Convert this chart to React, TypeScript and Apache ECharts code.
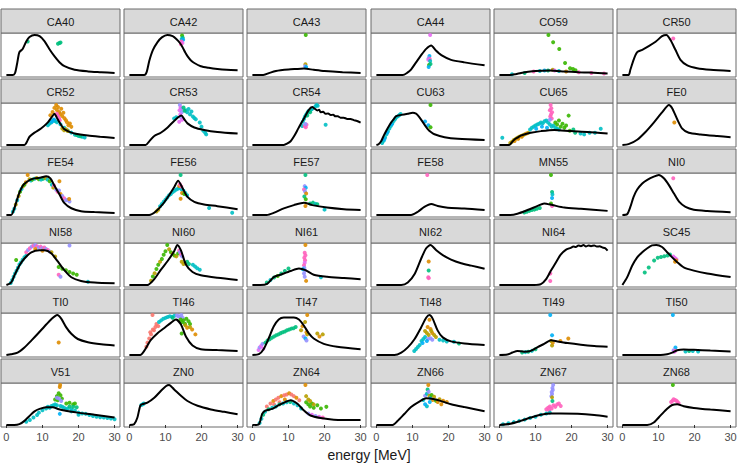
import React, { useEffect, useRef } from "react";
import * as echarts from "echarts";

type Pt = [number, number];
type Dot = [number, number, number];

const FONT = "'Liberation Sans', Arial, Helvetica, sans-serif";

// discrete hue palette for the experiment groups
const PALETTE = [
  "#F8766D", "#DE8C00", "#B79F00", "#39B600", "#00BF7D",
  "#00BFC4", "#00B0F6", "#9590FF", "#E76BF3", "#FF62BC",
];

const X_TICKS = [0, 10, 20, 30];
const X_TITLE = "energy [MeV]";

// ---- model curves [energy, value] and measurements [energy, value, group] ----
const ca40Curve: Pt[] = [[0,0],[1.8,0],[2.4,5],[3.0,30],[3.6,57],[4.5,65],[5.5,84],[6.4,95],[7.8,100],[9.2,97],[10.6,84],[11.9,65],[13.3,47],[14.7,32],[16.1,22],[18.9,13],[22.6,9],[26.3,7],[30,5]];
const ca40Dots: Dot[] = [[5.9,84,4],[14.3,78,4],[14.7,80,4],[15.0,81,4]];

const ca42Curve: Pt[] = [[0,0],[4.1,0],[4.8,8],[5.5,35],[6.5,62],[7.8,82],[9,94],[10.5,100],[12,97],[13,90],[14,80],[14.7,70],[15.5,56],[16.1,47],[17,37],[18,30],[19.8,22],[22,18],[24.4,15],[27,13],[30,12]];
const ca42Dots: Dot[] = [[14.6,99,3],[14.8,93,4],[14.5,90,5],[14.9,88,6],[14.4,84,9],[14.7,80,8],[14.3,77,9]];

const ca43Curve: Pt[] = [[0,0],[3,0],[5,6],[6.5,10],[7.8,12],[10,14],[12,15],[14.3,16],[17,13],[20,10],[25,7],[30,5]];
const ca43Dots: Dot[] = [[14.8,100,3],[14.7,27,2],[14.6,22,7],[14.9,20,6]];

const ca44Curve: Pt[] = [[0,0],[7.3,0],[8.5,5],[9.6,13],[11,30],[12.4,47],[13.8,62],[15.2,70],[16.5,58],[18,47],[20.7,36],[24.4,30],[30,23]];
const ca44Dots: Dot[] = [[14.9,95,8],[14.7,45,6],[14.5,40,7],[14.8,38,9],[14.4,36,8],[14.9,33,5],[14.6,24,3],[15.0,26,4],[14.5,19,6]];

const co59Curve: Pt[] = [[0,0],[3,0],[4.5,2],[6,5],[8,8],[10,10],[14,11],[18,9],[22,7],[25,6],[30,4]];
const co59Dots: Dot[] = [[13.6,100,3],[14.9,82,3],[16.6,65,3],[18.2,30,3],[19.6,17,3],[20.4,15,3],[21.1,12,3],[9.5,9,9],[11.2,10,5],[12.5,11,6],[13.5,11,4],[14.8,13,2],[15.3,11,8],[16.5,10,5],[18.5,9,1],[22,7,9],[25.5,5,9],[29,4,9],[3.5,2,5],[7,5,4]];

const cr50Curve: Pt[] = [[0,0],[1.7,0],[2.2,13],[3.1,38],[4.1,57],[5.5,63],[7.3,72],[9.2,83],[11,97],[12.2,100],[13.3,88],[14.7,63],[16.1,38],[18,24],[20.7,17],[24.4,13],[30,10]];
const cr50Dots: Dot[] = [[14.1,91,9]];

const cr52Curve: Pt[] = [[0,0],[5,0],[5.7,8],[6.4,20],[7.8,30],[9.6,40],[11.5,55],[12.6,68],[13.3,76],[14,66],[14.7,55],[16.1,38],[17.5,32],[18.9,28],[22.6,23],[26,20],[30,17]];
const cr52Dots: Dot[] = [[12.2,72,1],[12.8,80,1],[13.3,90,1],[13.8,97,1],[14.0,85,1],[14.3,92,1],[14.6,80,1],[14.9,75,1],[15.2,88,1],[15.5,70,1],[15.8,78,1],[16.1,65,1],[16.5,60,1],[16.8,55,1],[17.2,48,1],[17.6,52,1],[18.0,44,1],[14.0,76,9],[14.3,70,9],[14.6,65,9],[14.8,60,9],[11.5,48,5],[12.0,52,5],[12.5,55,5],[13.0,60,5],[13.5,58,5],[14.0,55,5],[15.0,50,5],[16.0,42,5],[17.0,35,5],[18.0,30,5],[19.0,25,5],[20.0,22,5],[21.0,20,5],[21.7,18,5],[15.5,40,2],[16.0,36,2],[16.5,38,2],[17.0,34,2],[13.2,62,6],[12.6,57,6],[19.5,24,4],[20.5,21,4]];

const cr53Curve: Pt[] = [[0,0],[4.5,0],[5.5,9],[6.9,22],[8.7,30],[10.6,43],[12.4,59],[14.4,72],[15.3,62],[16.1,53],[18,43],[20.7,37],[24.4,32],[30,28]];
const cr53Dots: Dot[] = [[14.0,98,7],[14.2,92,8],[14.4,88,7],[13.9,85,8],[14.5,80,7],[14.1,75,8],[14.3,68,7],[14.6,62,8],[13.8,57,8],[12.4,65,5],[13.0,68,5],[15.6,85,5],[16.0,80,5],[16.4,88,5],[16.8,75,5],[17.2,82,5],[17.6,70,5],[18.0,66,5],[18.4,63,5],[19.5,55,5],[20.0,45,5],[20.5,35,5],[21.0,30,5],[21.3,26,5],[15.0,92,4],[15.3,84,4]];

const cr54Curve: Pt[] = [[0,0],[8.7,0],[9.6,3],[10.6,9],[11.5,20],[12.4,34],[13.4,50],[14.3,63],[15.6,83],[16.6,90],[17.3,86],[18,82],[18.5,84],[18.9,78],[19.6,79],[20.3,74],[21,75],[21.7,71],[22.4,72],[23,68],[23.7,68],[24.4,65],[25.3,65],[26.3,62],[27.2,62],[28.1,59],[29,57],[30,53]];
const cr54Dots: Dot[] = [[13.8,45,5],[14.0,55,5],[14.3,62,5],[14.6,68,5],[14.9,72,5],[15.2,76,5],[15.5,80,5],[15.9,82,5],[16.3,84,5],[16.6,86,5],[17.5,92,5],[17.8,95,5],[18.1,93,5],[20.3,48,5],[14.5,45,9],[14.8,42,9],[15.0,48,9],[15.2,70,4],[16.0,78,4],[14.7,50,7]];

const cu63Curve: Pt[] = [[0,0],[0.6,2],[1.3,9],[2.0,22],[2.7,34],[3.4,45],[4.1,55],[4.8,63],[5.5,70],[6.9,73],[8.7,76],[10.1,78],[11,76],[11.5,72],[12.2,64],[12.9,55],[14.3,38],[15.2,31],[16.1,26],[18.9,19],[22.6,15],[30,12]];
const cu63Dots: Dot[] = [[1.6,5,5],[2.0,10,5],[2.4,18,5],[2.8,26,5],[3.2,33,5],[3.6,40,5],[4.0,46,5],[4.4,52,5],[4.8,58,5],[5.2,63,5],[5.6,68,5],[6.0,70,5],[6.4,73,5],[6.7,75,5],[2.2,14,6],[3.0,30,6],[4.2,50,6],[13.5,57,6],[14.4,48,6],[15.0,97,3],[15.0,43,3]];

const cu65Curve: Pt[] = [[0,0],[2.7,0],[3.4,6],[4.1,13],[5,18],[5.9,23],[7.3,27],[8.7,30],[11.5,34],[15.2,37],[19.8,34],[24.4,32],[30,28]];
const cu65Dots: Dot[] = [[3.0,5,2],[3.5,8,2],[4.0,12,2],[4.5,15,2],[5.0,18,2],[5.5,20,2],[6.0,22,2],[6.5,24,2],[7.0,26,2],[8.0,30,2],[4.2,10,1],[5.2,15,1],[6.2,20,1],[7.5,28,1],[0.8,18,5],[8.5,38,5],[9.0,42,5],[9.5,45,5],[10.0,48,5],[10.5,50,5],[11.0,52,5],[11.5,55,5],[12.0,53,5],[12.5,58,5],[13.0,60,5],[13.5,55,5],[14.0,50,5],[14.5,45,5],[15.0,48,5],[15.5,42,5],[16.0,40,5],[16.5,38,5],[22.5,28,5],[23.5,26,5],[25.0,30,5],[26.5,30,5],[28.1,40,5],[10.2,40,6],[11.8,45,6],[13.2,42,6],[14.2,98,9],[14.4,90,9],[14.0,85,9],[14.6,80,9],[14.3,75,9],[14.1,70,9],[14.5,65,9],[14.0,62,7],[15.5,55,3],[16.0,50,3],[16.5,60,3],[17.0,45,3],[17.5,52,3],[18.0,42,3],[18.5,48,3],[19.2,72,3],[19.5,35,3],[20.5,38,4],[21.0,30,4]];

const fe0Curve: Pt[] = [[0,0],[1.7,2],[4.1,13],[6.4,32],[8.7,55],[11,80],[12.9,98],[13.8,90],[15.2,63],[16.6,40],[18.4,30],[21.7,26],[26.3,22],[30,19]];
const fe0Dots: Dot[] = [[14.4,55,1]];

const fe54Curve: Pt[] = [[0,0],[1.3,0],[2.2,16],[2.9,35],[3.6,53],[4.3,66],[5,74],[6.4,83],[7.8,87],[9.6,89],[11,92],[12.2,87],[13.3,70],[14.7,49],[16.1,28],[18,16],[20.7,9],[24.4,7],[30,5]];
const fe54Dots: Dot[] = [[1.8,8,5],[2.2,15,5],[2.6,25,2],[3.0,35,5],[3.4,45,2],[3.8,55,3],[4.2,62,5],[4.6,68,2],[5.0,72,3],[5.4,78,1],[5.9,95,1],[6.4,85,2],[6.8,82,5],[7.2,84,3],[7.8,86,5],[8.4,88,2],[9.0,85,3],[9.6,84,5],[10.2,86,4],[10.8,88,2],[11.4,84,5],[12.0,80,3],[12.6,72,5],[13.0,65,2],[13.2,70,9],[13.8,60,7],[14.2,55,9],[14.7,80,1],[14.6,58,7],[15.0,50,1],[15.5,45,7],[16.0,40,9],[16.5,35,7],[17.0,36,7],[17.5,32,7],[17.4,38,1]];

const fe56Curve: Pt[] = [[0,0],[5.5,0],[7.3,8],[9.2,24],[11,45],[12.4,63],[13.5,78],[14.7,62],[16.1,41],[18,30],[20.7,24],[24.4,20],[30,13]];
const fe56Dots: Dot[] = [[14.2,91,4],[8.5,20,5],[9.0,25,5],[9.5,30,5],[10.0,35,5],[10.5,40,5],[11.0,45,5],[11.5,48,5],[12.0,52,5],[12.5,55,5],[13.0,58,5],[13.5,60,5],[14.0,62,5],[14.5,58,5],[15.0,55,5],[15.5,50,5],[16.0,45,5],[22.1,16,5],[28.5,5,5],[7.5,8,2],[8.0,12,2],[14.2,37,1],[14.6,50,1],[13.8,66,1],[14.0,70,9],[14.4,65,9],[15.2,48,3]];

const fe57Curve: Pt[] = [[0,0],[4,0],[5.9,5],[8.7,16],[11.5,24],[14.3,30],[16.6,24],[20.7,18],[25.4,14],[30,12]];
const fe57Dots: Dot[] = [[14.7,97,4],[14.5,70,7],[14.8,66,6],[14.3,62,9],[14.6,57,7],[14.9,52,1],[14.4,45,4],[14.8,38,3],[14.7,22,1],[16.0,28,4],[16.8,30,4],[17.5,27,5],[18.0,26,4],[20.0,13,5]];

const fe58Curve: Pt[] = [[0,0],[9.6,0],[11.5,8],[13.3,20],[15.2,27],[17,22],[19.8,18],[24.4,16],[30,12]];
const fe58Dots: Dot[] = [[14.1,98,9]];

const mn55Curve: Pt[] = [[0,0],[3,0],[5,3],[7.8,12],[10.6,22],[12.4,28],[14.7,24],[18,18],[22.6,15],[30,10]];
const mn55Dots: Dot[] = [[14.3,97,3],[14.6,56,4],[14.7,50,5],[14.6,41,6],[14.3,28,3],[14.6,22,9],[6.9,6,4],[7.6,8,4],[8.3,10,4],[9.0,12,4],[9.7,13,4],[10.4,15,4],[11.2,17,4]];

const ni0Curve: Pt[] = [[0,0],[1.3,2],[2.2,20],[3.1,45],[4.1,63],[5.5,78],[6.9,87],[8.7,95],[10.1,99],[11.5,91],[12.9,74],[14.3,53],[15.7,33],[17.5,20],[19.8,13],[23.5,10],[30,7]];
const ni0Dots: Dot[] = [[14.1,91,9]];

const ni58Curve: Pt[] = [[0,0],[1.3,6],[2.2,23],[3.6,48],[5,65],[6.9,80],[9.2,85],[10.6,85],[12.4,78],[14.3,57],[16.1,36],[18,19],[20.7,10],[24.4,6],[30,4]];
const ni58Dots: Dot[] = [[1.2,5,5],[1.6,12,5],[2.0,20,5],[2.4,28,5],[2.8,35,5],[3.2,42,5],[3.6,50,5],[4.0,55,5],[4.5,62,5],[5.0,68,5],[5.5,72,5],[2.7,61,3],[14.5,44,3],[15.5,40,3],[16.5,36,3],[17.5,32,3],[18.5,28,3],[19.5,25,3],[5.5,80,9],[6.0,86,7],[6.5,90,9],[7.0,94,7],[7.5,96,9],[8.0,98,7],[8.5,95,9],[9.0,92,7],[9.5,94,9],[10.0,90,7],[10.5,92,9],[11.0,88,7],[11.5,86,9],[12.0,82,7],[17.5,97,7],[14.5,25,9],[15.0,20,7],[8.0,88,1],[10.0,84,1],[22.6,8,5],[12.5,80,2],[13.5,70,2]];

const ni60Curve: Pt[] = [[0,0],[5,0],[6.9,14],[8.7,36],[10.6,57],[12.4,80],[13.3,95],[14.3,82],[15.7,48],[17.5,31],[19.8,23],[24.4,17],[30,12]];
const ni60Dots: Dot[] = [[6.0,10,2],[6.5,20,3],[7.0,28,2],[7.5,38,3],[8.0,48,3],[8.5,55,2],[9.0,62,3],[9.5,72,3],[10.0,80,3],[10.5,95,3],[11.0,85,2],[11.5,78,3],[12.0,74,2],[12.5,70,3],[13.0,68,2],[13.5,75,3],[14.5,55,2],[15.0,50,2],[15.5,52,2],[13.8,82,9],[14.0,78,7],[14.3,72,9],[14.6,68,7],[17.6,48,5],[18.2,44,5],[18.8,40,5],[19.5,36,5],[16.0,55,4],[16.5,50,4]];

const ni61Curve: Pt[] = [[0,0],[2.2,0],[4.1,3],[5.9,19],[7.8,25],[10.6,34],[12.9,40],[14.7,36],[17,25],[20.7,20],[25.4,17],[30,14]];
const ni61Dots: Dot[] = [[14.7,97,1],[14.5,78,9],[14.7,72,9],[14.4,66,9],[14.6,60,9],[14.5,54,8],[14.3,48,9],[14.4,42,7],[14.6,35,7],[14.3,28,7],[14.5,20,7],[14.9,10,1],[4.0,6,4],[5.0,12,5],[6.0,18,4],[7.0,22,3],[8.0,28,4],[9.0,34,4],[10.0,40,4],[19.0,19,5],[14.0,38,6]];

const ni62Curve: Pt[] = [[0,0],[6.9,0],[8.7,6],[10.6,27],[12.4,65],[13.8,91],[15,99],[16.6,86],[18.4,74],[20.7,63],[23.5,54],[26.3,48],[30,40]];
const ni62Dots: Dot[] = [[14.5,58,1],[14.5,36,4],[14.4,19,9],[14.5,17,9]];

const ni64Curve: Pt[] = [[0,0],[9.6,0],[11.5,2],[12.9,14],[14.3,36],[15.7,57],[17,76],[18.4,88],[19.8,93],[20.5,96],[21.2,95],[21.9,99],[22.6,97],[23.3,100],[24,96],[24.7,99],[25.4,97],[26.3,99],[27,96],[27.8,97],[28.5,94],[29.3,92],[30,86]];
const ni64Dots: Dot[] = [[14.1,29,9],[14.1,10,9]];

const sc45Curve: Pt[] = [[0,0],[1.3,19],[2.7,48],[4.1,69],[5.5,82],[6.9,92],[8.2,99],[9.4,100],[11,95],[12.4,82],[13.8,69],[15.2,57],[17,44],[19.8,36],[23.5,29],[30,20]];
const sc45Dots: Dot[] = [[6.2,31,4],[7.3,44,4],[8.8,61,4],[9.8,68,4],[10.7,70,4],[11.6,72,4],[12.5,74,4],[13.2,76,4],[14.1,71,8],[14.4,68,8],[14.7,66,8],[15.0,64,8],[14.6,58,1],[14.9,61,1]];

const ti0Curve: Pt[] = [[0,0],[1.3,2],[3.1,6],[5,19],[6.9,36],[8.7,53],[10.6,72],[12.4,89],[14.1,100],[15.2,91],[16.6,69],[18,53],[19.8,40],[22.6,32],[26.3,27],[30,24]];
const ti0Dots: Dot[] = [[14.5,31,1]];

const ti46Curve: Pt[] = [[0,0],[3,0],[4.1,10],[5.9,36],[7.8,53],[9.6,65],[11.5,78],[12.9,86],[14.3,74],[15.7,44],[17.5,23],[19.8,14],[24.4,12],[30,10]];
const ti46Dots: Dot[] = [[4.7,20,0],[5.0,30,0],[5.5,40,0],[5.8,55,0],[6.0,50,0],[6.4,97,0],[6.5,62,0],[6.8,60,0],[7.2,68,0],[7.5,75,0],[8.0,70,0],[8.2,80,5],[8.8,84,5],[9.4,88,5],[10.0,90,5],[10.6,92,5],[11.2,94,5],[11.8,93,5],[12.5,95,5],[12.0,90,4],[13.2,96,7],[13.6,94,7],[14.0,92,7],[14.4,97,7],[14.8,90,7],[14.2,86,3],[14.6,80,3],[15.0,84,3],[15.4,76,3],[15.8,88,3],[16.4,82,3],[16.8,75,3],[14.5,52,3],[15.5,72,2],[16.0,66,1],[16.8,68,2],[17.4,62,1],[18.3,50,1]];

const ti47Curve: Pt[] = [[0,0],[1.8,2],[3.1,14],[4.5,40],[5.9,69],[7.3,86],[8.7,91],[11.5,91],[12.9,86],[14.3,71],[15.6,53],[17,40],[19.8,27],[23.5,20],[30,14]];
const ti47Dots: Dot[] = [[1.7,12,8],[2.0,18,7],[2.4,22,8],[2.8,27,7],[3.0,15,8],[3.6,30,4],[4.2,35,4],[4.8,38,4],[5.4,42,4],[6.0,45,4],[6.6,48,4],[7.2,50,4],[7.8,53,4],[8.4,55,4],[9.0,57,4],[9.6,60,4],[10.2,62,4],[10.8,64,4],[11.4,65,4],[12.0,68,4],[13.5,60,2],[13.9,70,1],[15.2,97,1],[14.6,80,2],[15.0,55,1],[15.2,50,2],[14.2,45,7],[14.7,40,6],[15.0,35,7],[18.0,52,2],[19.5,50,2],[18.6,45,1]];

const ti48Curve: Pt[] = [[0,0],[5,0],[6.9,6],[8.7,19],[10.6,40],[12.4,69],[13.8,93],[14.7,100],[15.6,91],[17,61],[18.4,44],[20.7,34],[24.4,29],[30,25]];
const ti48Dots: Dot[] = [[14.7,88,1],[14.2,70,1],[15.0,65,1],[15.5,55,1],[13.5,60,2],[14.0,55,2],[14.5,50,2],[15.2,60,2],[16.0,50,2],[16.5,45,2],[10.5,10,5],[11.0,15,5],[11.5,20,5],[12.0,25,5],[12.5,35,5],[13.0,40,5],[13.5,45,5],[17.5,38,5],[18.5,36,5],[19.5,34,5],[21.5,33,5],[14.3,40,7],[15.0,42,7],[15.5,38,7],[22.9,29,4],[12.8,30,6],[14.0,35,6]];

const ti49Curve: Pt[] = [[0,0],[2.2,1],[3.6,6],[5,10],[6.9,8],[8.7,10],[10.6,19],[12.4,27],[14.3,36],[16.1,33],[18.9,29],[22.6,25],[26.3,22],[30,20]];
const ti49Dots: Dot[] = [[14.1,97,6],[14.6,48,6],[16.9,34,1],[19.1,40,1],[14.6,23,2],[14.8,30,1],[14.3,34,2],[6.3,6,4],[7.2,7,5],[8.0,8,4],[9.0,10,5],[10.0,14,4]];

const ti50Curve: Pt[] = [[0,0],[10.6,0],[12.4,2],[13.8,6],[15.2,12],[17,14],[19.8,13],[24.4,11],[30,9]];
const ti50Dots: Dot[] = [[14.0,100,6],[14.7,19,6],[14.2,12,7],[14.6,10,9],[14.4,8,8],[17.5,9,5],[18.5,10,4],[19.5,10,5],[21.0,9,5]];

const v51Curve: Pt[] = [[0,0],[2.2,0],[3.6,2],[5,10],[6.4,22],[7.8,33],[9.2,39],[11,43],[12.9,43],[14.3,39],[16.1,35],[19.8,30],[24.4,25],[30,18]];
const v51Dots: Dot[] = [[14.9,97,1],[14.8,92,1],[13.5,62,3],[14.0,70,3],[14.5,77,3],[15.0,72,3],[15.4,64,3],[14.2,60,3],[16.6,52,3],[17.5,54,3],[18.5,50,3],[19.0,52,3],[14.0,66,7],[14.6,64,7],[15.2,58,7],[5.5,8,5],[6.5,12,5],[7.5,18,5],[8.5,24,5],[9.0,30,5],[10.0,36,5],[11.0,40,5],[11.5,44,5],[12.0,42,5],[12.5,46,5],[13.0,48,5],[13.5,50,5],[14.0,48,5],[15.0,46,5],[15.5,44,5],[16.0,42,5],[16.5,38,5],[17.0,40,5],[18.0,38,5],[18.0,33,5],[19.0,35,5],[20.0,30,5],[20.0,25,5],[21.0,28,5],[22.0,27,5],[23.0,24,5],[24.0,22,5],[25.0,20,5],[26.0,19,5],[27.0,18,5],[28.0,17,5],[29.0,16,5],[30.0,14,5],[14.8,27,6],[17.5,45,4],[18.5,44,4],[19.5,43,4]];

const zn0Curve: Pt[] = [[0,0],[1.3,2],[2.2,18],[3,48],[3.6,52],[5,56],[6.9,68],[8.7,85],[10.1,97],[11,100],[12.4,89],[14.3,73],[16.1,60],[18.9,48],[22.6,39],[26.3,33],[30,27]];
const zn0Dots: Dot[] = [[3.3,50,5],[3.7,52,5],[4.0,54,5]];

const zn64Curve: Pt[] = [[0,0],[1.8,2],[2.7,27],[3.6,35],[5.5,39],[7.3,48],[9.2,56],[10.6,60],[12.4,52],[14.3,35],[16.1,23],[18.9,17],[22.6,13],[30,12]];
const zn64Dots: Dot[] = [[4.0,45,0],[5.0,52,0],[5.8,58,1],[6.5,62,0],[7.2,66,0],[8.0,70,1],[8.8,72,0],[9.5,74,0],[10.2,77,1],[10.8,74,0],[11.5,70,0],[12.2,66,1],[6.0,50,0],[7.5,55,0],[9.0,62,1],[13.0,60,0],[14.7,97,1],[2.0,5,5],[2.5,15,5],[3.0,25,4],[3.5,32,5],[4.5,38,4],[5.5,42,5],[6.5,45,5],[7.5,50,4],[8.5,52,5],[9.5,55,5],[10.5,56,4],[11.5,52,5],[12.5,48,5],[13.5,40,5],[14.9,55,3],[15.5,50,3],[16.0,45,3],[16.5,52,3],[17.0,42,3],[18.0,48,3],[19.0,40,3],[20.5,44,3],[14.9,70,2],[15.5,62,2],[16.0,58,2],[17.0,50,2],[15.5,28,7],[16.5,25,8],[17.5,22,7],[18.5,20,8],[19.5,18,9]];

const zn66Curve: Pt[] = [[0,0],[4.5,0],[5.9,10],[7.8,27],[9.6,43],[11.9,56],[13.8,64],[16.1,62],[18.4,56],[20.7,50],[24.4,43],[30,33]];
const zn66Dots: Dot[] = [[14.4,96,1],[13.0,60,5],[13.5,70,7],[14.0,75,5],[14.2,85,4],[14.5,80,7],[14.7,70,2],[15.0,65,6],[15.3,72,3],[15.6,60,1],[16.0,68,2],[16.5,58,3],[17.0,55,1],[17.5,62,2],[18.0,50,1],[14.8,55,6],[14.0,45,5],[13.5,50,6],[18.5,58,1],[19.5,55,1]];

const zn67Curve: Pt[] = [[0,0],[3.1,3],[5.9,10],[8.7,18],[11.5,25],[14.3,28],[17,28],[21.7,27],[26.3,24],[30,20]];
const zn67Dots: Dot[] = [[14.9,97,7],[14.7,90,7],[14.8,85,7],[14.5,80,7],[14.6,75,7],[14.4,70,7],[14.6,67,2],[14.7,58,4],[13.0,38,9],[13.5,42,9],[14.0,45,9],[14.5,40,9],[15.0,48,9],[15.5,44,9],[16.0,50,9],[16.5,52,9],[17.0,46,9],[13.8,35,9],[1.0,2,5],[2.5,4,5],[4.0,7,5],[5.5,10,5],[7.0,13,5],[8.5,17,5],[10.0,20,5],[11.5,25,5],[13.0,28,5],[14.0,30,5]];

const zn68Curve: Pt[] = [[0,0],[6.9,0],[8.7,6],[10.6,23],[12.4,39],[13.8,48],[15.2,50],[17,45],[19.8,41],[24.4,37],[30,33]];
const zn68Dots: Dot[] = [[14.0,96,3],[13.5,55,9],[13.9,58,9],[14.2,62,9],[14.6,60,9],[15.0,58,9],[15.3,55,9],[15.6,52,9]];

const PANELS: { name: string; curve: Pt[]; dots: Dot[] }[] = [
  { name: "CA40", curve: ca40Curve, dots: ca40Dots },
  { name: "CA42", curve: ca42Curve, dots: ca42Dots },
  { name: "CA43", curve: ca43Curve, dots: ca43Dots },
  { name: "CA44", curve: ca44Curve, dots: ca44Dots },
  { name: "CO59", curve: co59Curve, dots: co59Dots },
  { name: "CR50", curve: cr50Curve, dots: cr50Dots },
  { name: "CR52", curve: cr52Curve, dots: cr52Dots },
  { name: "CR53", curve: cr53Curve, dots: cr53Dots },
  { name: "CR54", curve: cr54Curve, dots: cr54Dots },
  { name: "CU63", curve: cu63Curve, dots: cu63Dots },
  { name: "CU65", curve: cu65Curve, dots: cu65Dots },
  { name: "FE0", curve: fe0Curve, dots: fe0Dots },
  { name: "FE54", curve: fe54Curve, dots: fe54Dots },
  { name: "FE56", curve: fe56Curve, dots: fe56Dots },
  { name: "FE57", curve: fe57Curve, dots: fe57Dots },
  { name: "FE58", curve: fe58Curve, dots: fe58Dots },
  { name: "MN55", curve: mn55Curve, dots: mn55Dots },
  { name: "NI0", curve: ni0Curve, dots: ni0Dots },
  { name: "NI58", curve: ni58Curve, dots: ni58Dots },
  { name: "NI60", curve: ni60Curve, dots: ni60Dots },
  { name: "NI61", curve: ni61Curve, dots: ni61Dots },
  { name: "NI62", curve: ni62Curve, dots: ni62Dots },
  { name: "NI64", curve: ni64Curve, dots: ni64Dots },
  { name: "SC45", curve: sc45Curve, dots: sc45Dots },
  { name: "TI0", curve: ti0Curve, dots: ti0Dots },
  { name: "TI46", curve: ti46Curve, dots: ti46Dots },
  { name: "TI47", curve: ti47Curve, dots: ti47Dots },
  { name: "TI48", curve: ti48Curve, dots: ti48Dots },
  { name: "TI49", curve: ti49Curve, dots: ti49Dots },
  { name: "TI50", curve: ti50Curve, dots: ti50Dots },
  { name: "V51", curve: v51Curve, dots: v51Dots },
  { name: "ZN0", curve: zn0Curve, dots: zn0Dots },
  { name: "ZN64", curve: zn64Curve, dots: zn64Dots },
  { name: "ZN66", curve: zn66Curve, dots: zn66Dots },
  { name: "ZN67", curve: zn67Curve, dots: zn67Dots },
  { name: "ZN68", curve: zn68Curve, dots: zn68Dots },
];

// facet layout (pixels)
const NCOL = 6;
const COL_STEP = 123.2;
const PANEL_W = 119;
const ROW_STEP = 70;
const STRIP_TOP = 9;
const STRIP_H = 24;
const PANEL_TOP = 33;
const PANEL_H = 44;
const BORDER = "#6b6b6b";

function buildOption() {
  const nRow = Math.ceil(PANELS.length / NCOL);
  const grid: any[] = [];
  const xAxis: any[] = [];
  const yAxis: any[] = [];
  const series: any[] = [];
  const graphic: any[] = [];

  PANELS.forEach((p, i) => {
    const c = i % NCOL;
    const r = Math.floor(i / NCOL);
    const left = Math.round(COL_STEP * c) + 1;
    const top = PANEL_TOP + ROW_STEP * r;
    const bottomRow = r === nRow - 1;

    grid.push({
      left,
      top,
      width: PANEL_W,
      height: PANEL_H,
      show: true,
      backgroundColor: "#ffffff",
      borderColor: BORDER,
      borderWidth: 1,
      containLabel: false,
    });

    xAxis.push({
      type: "value",
      gridIndex: i,
      min: -1.5,
      max: 31.5,
      show: bottomRow,
      axisLine: { show: false },
      splitLine: { show: false },
      axisTick: {
        show: bottomRow,
        customValues: X_TICKS,
        length: 3,
        lineStyle: { color: "#333333", width: 1 },
      },
      axisLabel: {
        show: bottomRow,
        customValues: X_TICKS,
        color: "#4d4d4d",
        fontSize: 11,
        fontFamily: FONT,
        margin: 4,
      },
    });

    // free y scale with 5% padding
    yAxis.push({
      type: "value",
      gridIndex: i,
      show: false,
      scale: true,
      splitLine: { show: false },
      min: (v: { min: number; max: number }) => v.min - 0.05 * (v.max - v.min),
      max: (v: { min: number; max: number }) => v.max + 0.05 * (v.max - v.min),
    });

    series.push({
      type: "scatter",
      xAxisIndex: i,
      yAxisIndex: i,
      data: p.dots,
      symbolSize: 4,
      z: 2,
      silent: true,
      itemStyle: {
        color: (d: any) => PALETTE[d.data[2]],
        opacity: 0.9,
      },
    });
    series.push({
      type: "line",
      xAxisIndex: i,
      yAxisIndex: i,
      data: p.curve,
      showSymbol: false,
      smooth: 0.25,
      z: 3,
      silent: true,
      lineStyle: { color: "#000000", width: 2 },
    });

    const sTop = STRIP_TOP + ROW_STEP * r;
    graphic.push({
      type: "rect",
      shape: { x: left, y: sTop, width: PANEL_W, height: STRIP_H },
      style: { fill: "#d9d9d9", stroke: BORDER, lineWidth: 1 },
      silent: true,
    });
    graphic.push({
      type: "text",
      x: left + PANEL_W / 2,
      y: sTop + STRIP_H / 2 + 0.5,
      silent: true,
      style: {
        text: p.name,
        fill: "#1a1a1a",
        fontSize: 11,
        fontFamily: FONT,
        align: "center",
        verticalAlign: "middle",
      },
    });
  });

  graphic.push({
    type: "text",
    x: 369,
    y: 455,
    silent: true,
    style: {
      text: X_TITLE,
      fill: "#1a1a1a",
      fontSize: 14,
      fontFamily: FONT,
      align: "center",
      verticalAlign: "middle",
    },
  });

  return {
    animation: false,
    backgroundColor: "#ffffff",
    grid,
    xAxis,
    yAxis,
    series,
    graphic,
  };
}

export default function App() {
  const ref = useRef<HTMLDivElement>(null);

  useEffect(() => {
    document.body.style.margin = "0";
    if (!ref.current) return;
    const chart = echarts.init(ref.current, null, { renderer: "svg" });
    chart.setOption(buildOption() as any);
    return () => chart.dispose();
  }, []);

  return <div ref={ref} style={{ width: 742, height: 464 }} />;
}
